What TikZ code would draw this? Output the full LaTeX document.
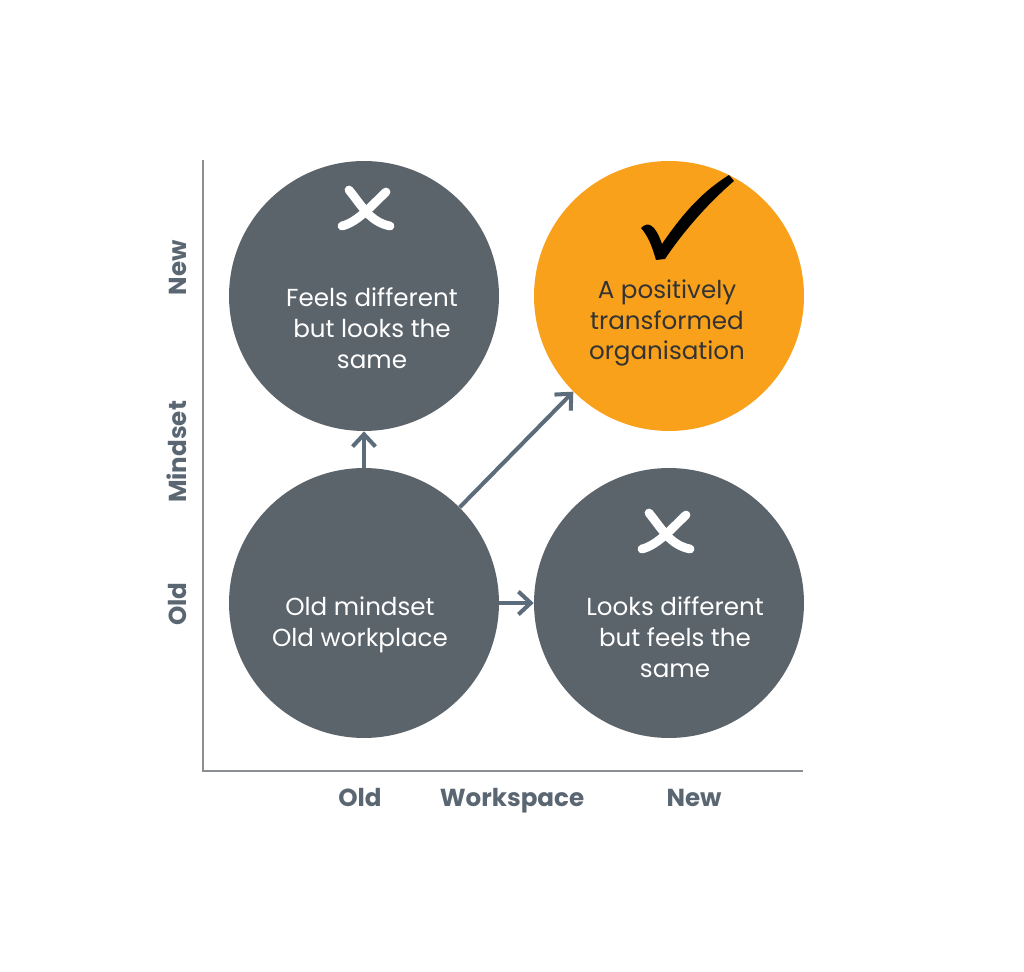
\documentclass[tikz,border=0pt]{standalone}
\usepackage{fontspec}
\setmainfont{Poppins}
\usetikzlibrary{arrows.meta}

\definecolor{slate}{HTML}{5B636B}
\definecolor{arrowgray}{HTML}{5D6C7B}
\definecolor{labelgray}{HTML}{5A6772}
\definecolor{goodorange}{HTML}{F9A11B}
\definecolor{axisgray}{HTML}{8A8E92}

\begin{document}
\begin{tikzpicture}[x=0.02cm, y=-0.02cm,
  quad/.style={circle, minimum size=5.4cm, inner sep=0pt, fill=slate},
  quadtext/.style={align=center, text=white, font=\fontsize{14}{17.6}\selectfont},
  axislabel/.style={text=labelgray, anchor=base, font=\fontsize{14}{17}\selectfont\bfseries},
  move/.style={-{Straight Barb[length=7pt,width=13pt,line width=2.3pt]}, line width=2.3pt, draw=arrowgray}]
  \useasboundingbox (0,0) rectangle (1024,972);
  \fill[white] (0,0) rectangle (1024,972);

  % axes
  \draw[axisgray, line width=0.6pt] (203,160) -- (203,771) -- (803,771);
  \node[axislabel] (wold) at (360,806) {Old};
  \node[axislabel] (wlabel) at (512,806) {Workspace};
  \node[axislabel] (wnew) at (694,806) {New};
  \node[axislabel, rotate=90] (mnew) at (186,268) {New};
  \node[axislabel, rotate=90] (mlabel) at (186,452) {Mindset};
  \node[axislabel, rotate=90] (mold) at (186,604) {Old};

  % quadrants
  \node[quad] (feels) at (364,296) {};
  \node[quad, fill=goodorange] (good) at (669,296) {};
  \node[quad] (start) at (364,603) {};
  \node[quad] (looks) at (669,603) {};

  \node[quadtext] at (372,328) {Feels different\\but looks the\\same};
  \node[quadtext, text=black!80] at (667,323) {A positively\\transformed\\organisation};
  \node[quadtext] at (360,625) {Old mindset\\Old workplace};
  \node[quadtext] at (675,637) {Looks different\\but feels the\\same};

  % moves
  \draw[move] (start.north) -- (feels.south);
  \draw[move] (start.east) -- (looks.west);
  \draw[move] (start.45) -- (good.225);

  % crosses
  \foreach \dx/\dy in {0/0, 300/323} {
    \begin{scope}[shift={(\dx,\dy)}, white, line width=5pt, line cap=round]
      \draw (349,190) .. controls (362,206) and (370,222) .. (390,226);
      \draw (386,192) .. controls (372,205) and (358,222) .. (342,226);
    \end{scope}
  }

  % tick
  \fill[black] (641,228) .. controls (648,221) and (655,224) .. (662,244)
    .. controls (685,210) and (705,190) .. (729,175) -- (734,181)
    .. controls (705,206) and (681,235) .. (665,259) -- (656,260)
    .. controls (652,246) and (648,236) .. cycle;
\end{tikzpicture}
\end{document}
